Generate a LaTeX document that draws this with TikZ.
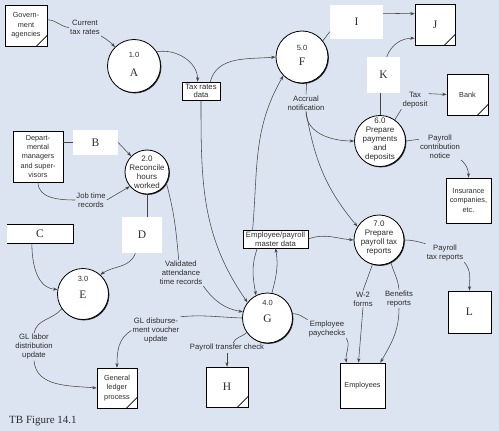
\documentclass[tikz,border=0pt]{standalone}
\usepackage{fontspec}
\setmainfont{Liberation Serif}
\newfontfamily\lab{Liberation Sans}
\usetikzlibrary{arrows.meta,shadows}
\definecolor{bg}{RGB}{219,228,240}
\definecolor{lc}{RGB}{70,70,70}
\definecolor{tc}{RGB}{45,45,45}
\newcommand\dupmark[1]{\draw[line width=0.7pt] ([xshift=-11pt]#1.south east) -- ([yshift=11pt]#1.south east);}
\tikzset{
  lbl/.style={font=\lab\fontsize{7.7}{9}\selectfont, text=tc, align=center, inner sep=1pt},
  ptxt/.style={font=\lab\fontsize{8}{9}\selectfont, text=tc, align=center, inner sep=0pt},
  numtxt/.style={font=\lab\fontsize{7.5}{9}\selectfont, text=tc, inner sep=0pt},
  lettxt/.style={font=\fontsize{11.5}{12}\selectfont, text=tc, inner sep=0pt},
  ent/.style={draw=black, line width=0.6pt, fill=white, font=\lab\fontsize{7.3}{9.3}\selectfont, text=tc, align=center, inner sep=1pt,
    drop shadow={opacity=1, fill=black, shadow xshift=1.1pt, shadow yshift=-1.1pt}},
  entl/.style={ent, font=\fontsize{11.5}{12}\selectfont},
  proc/.style={circle, draw=black, line width=0.8pt, fill=white, inner sep=0pt,
    drop shadow={opacity=1, fill=black!85, shadow xshift=0.9pt, shadow yshift=-0.9pt}},
  ph/.style={fill=white, font=\fontsize{11.5}{12}\selectfont, text=tc, inner sep=0pt},
  store/.style={draw=black, line width=0.5pt, fill=white, font=\lab\fontsize{7.7}{8.6}\selectfont, text=tc, align=center, inner sep=0.5pt,
    drop shadow={opacity=1, fill=black, shadow xshift=0.7pt, shadow yshift=-0.7pt}},
  conn/.style={draw=lc, line width=0.55pt},
  arr/.style={conn, -{Stealth[length=4.5pt,width=3.2pt]}},
}
\begin{document}
\begin{tikzpicture}[x=1pt,y=1pt]
\fill[bg] (0,0) rectangle (499,-431);
\useasboundingbox (0,0) rectangle (499,-431);

% external entities
\node[ent, minimum width=42, minimum height=41] (gov) at (26,-25.5) {Govern-\\ment\\agencies};
\node[ent, minimum width=50, minimum height=51] (dept) at (38,-156.5) {Depart-\\mental\\managers\\and super-\\visors};
\node[ent, minimum width=40, minimum height=40] (ledger) at (117,-388) {General\\ledger\\process};
\node[entl, minimum width=42, minimum height=40] (H) at (227,-387) {H};
\node[ent, minimum width=45, minimum height=45] (emp) at (362.5,-385.5) {Employees};
\node[entl, minimum width=43, minimum height=42] (L) at (469.5,-312) {L};
\node[ent, minimum width=45, minimum height=45] (ins) at (468.5,-200.5) {Insurance\\companies,\\etc.};
\node[ent, minimum width=41, minimum height=41] (bank) at (467.5,-94.5) {Bank};
\node[entl, minimum width=40, minimum height=41] (J) at (435,-24.5) {J};
\dupmark{gov}\dupmark{ledger}\dupmark{H}\dupmark{bank}\dupmark{J}

% data stores
\node[store, minimum width=38, minimum height=18] (trd) at (201,-91) {Tax rates\\data};
\node[store, minimum width=65, minimum height=18] (epd) at (275.5,-239) {Employee/payroll\\master data};
\node[ph, minimum width=66, minimum height=19, drop shadow={opacity=1, fill=black, shadow xshift=0.8pt, shadow yshift=-0.8pt}] (C) at (40,-233.5) {C};
\draw[line width=0.5pt] (C.north west) -- (C.north east) -- (C.south east) -- (C.south west);

% placeholders
\node[ph, minimum width=45, minimum height=25] (B) at (95.5,-142.5) {B};
\node[ph, minimum width=40, minimum height=36] (D) at (142,-235) {D};
\node[ph, minimum width=53, minimum height=34] (I) at (356.5,-22) {I};
\node[ph, minimum width=33, minimum height=36] (K) at (383.5,-75) {K};

% processes
\node[proc, minimum size=53] (c1) at (134,-66) {};
\node[numtxt] (c1n) at ([yshift=11pt]c1.center) {1.0};
\node[lettxt] (c1l) at ([yshift=-7pt]c1.center) {A};
\node[proc, minimum size=44] (c2) at (147,-172) {};
\node[ptxt] (c2t) at (c2.center) {2.0\\Reconcile\\hours\\worked};
\node[proc, minimum size=51] (c3) at (83,-294) {};
\node[numtxt] (c3n) at ([yshift=15pt]c3.center) {3.0};
\node[lettxt] (c3l) at ([yshift=-1pt]c3.center) {E};
\node[proc, minimum size=50] (c4) at (267.5,-318) {};
\node[numtxt] (c4n) at ([yshift=15pt]c4.center) {4.0};
\node[lettxt] (c4l) at ([yshift=-1pt]c4.center) {G};
\node[proc, minimum size=52] (c5) at (302,-57) {};
\node[numtxt] (c5n) at ([yshift=9pt]c5.center) {5.0};
\node[lettxt] (c5l) at ([yshift=-5pt]c5.center) {F};
\node[proc, minimum size=51] (c6) at (380,-141) {};
\node[ptxt] (c6t) at ([yshift=1pt]c6.center) {6.0\\Prepare\\payments\\and\\deposits};
\node[proc, minimum size=50] (c7) at (379,-240) {};
\node[ptxt] (c7t) at ([yshift=2pt]c7.center) {7.0\\Prepare\\payroll tax\\reports};

% flow labels
\node[lbl] (ctl) at (85,-27.5) {Current\\tax rates};
\node[lbl] (jtl) at (91,-200) {Job time\\records};
\node[lbl] (val) at (181,-273) {Validated\\attendance\\time records};
\node[lbl] (gll) at (34,-347) {GL labor\\distribution\\update};
\node[lbl] (gdl) at (156,-330.5) {GL disburse-\\ment voucher\\update};
\node[lbl] (ptl) at (227,-348) {Payroll transfer check};
\node[lbl] (epl) at (327,-329) {Employee\\paychecks};
\node[lbl] (w2l) at (363,-299) {W-2\\forms};
\node[lbl] (bfl) at (399,-299) {Benefits\\reports};
\node[lbl] (ptrl) at (445,-253) {Payroll\\tax reports};
\node[lbl] (acl) at (306,-103) {Accrual\\notification};
\node[lbl] (tdl) at (415,-100) {Tax\\deposit};
\node[lbl] (pcl) at (440,-147) {Payroll\\contribution\\notice};
\node[font=\fontsize{11}{12}\selectfont, text=tc, anchor=west, inner sep=0pt] (cap) at (9,-421) {TB Figure 14.1};

% connectors
\draw[conn] (gov.15) to[out=0,in=175] (ctl.west);
\draw[arr] (ctl.south east) to[out=-30,in=135] (c1.135);
\draw[arr] (c1.32) to[out=10,in=90] (trd.110);
\draw[arr] (trd.45) to[out=75,in=185] (c5.west);
\draw[arr] (trd.south) to[out=-90,in=125] (c4.142);

\draw[conn] (dept.east |- B.west) -- (B.west);
\draw[arr] (B.east) -- (c2.135);
\draw[conn] (dept.south) to[out=-90,in=180] (jtl.west);
\draw[arr] (jtl.east) -- (c2.220);
\draw[conn] (c2.south) -- (c2.south |- D.north);
\draw[arr] (D.250) to[out=-110,in=35] (c3.48);
\draw[arr] (C.230) to[out=-90,in=175] (c3.170);
\draw[conn] (c3.215) to[out=230,in=80] (gll.north);
\draw[arr] (gll.south) to[out=-85,in=175] (ledger.west);

\draw[conn] (c2.-30) to[out=-75,in=95] (val.100);
\draw[arr] (val.south east) to[out=-55,in=170] (c4.166);
\draw[conn] (c4.west) to[out=178,in=5] (gdl.north east);
\draw[arr] (gdl.west) to[out=210,in=90] (ledger.north);
\draw[conn] (c4.215) to[out=225,in=70] ([xshift=6pt]ptl.north);
\draw[arr] (ptl.south) -- (H.north);
\draw[conn] (c4.10) to[out=0,in=150] (epl.north west);
\draw[arr] (epl.south east) to[out=-60,in=100] (emp.125);

\draw[arr] (epd.207) to[out=250,in=100] (c4.117);
\draw[arr] (c4.80) to[out=75,in=-80] (epd.270);
\draw[arr] (epd.158) to[out=85,in=240] (c5.225);
\draw[arr] (epd.east) to[out=20,in=175] (c7.west);

\draw[conn] (c5.-80) -- (acl.north);
\draw[arr] (acl.south) to[out=-90,in=180] (c6.west);
\draw[arr] (acl.south) to[out=-80,in=130] (c7.148);

\draw[conn] (c5.38) -- (I.200);
\draw[arr] (I.18) -- (J.152);
\draw[conn] (c6.north) -- (c6.north |- K.south);
\draw[arr] (K.80) to[out=70,in=180] (J.214);
\draw[conn] (c6.55) -- (tdl.south west);
\draw[arr] (tdl.25) -- (bank.west);
\draw[conn] (c6.east) -- (pcl.160);
\draw[arr] (pcl.south east) to[out=-40,in=90] (ins.north);

\draw[conn] (c7.east) to[out=0,in=165] (ptrl.north west);
\draw[arr] (ptrl.south east) to[out=-50,in=90] (L.north);
\draw[conn] (c7.-105) -- (w2l.north);
\draw[arr] (w2l.south) -- (emp.100);
\draw[conn] (c7.-62) to[out=-75,in=95] (bfl.north);
\draw[arr] (bfl.south) to[out=-90,in=60] (emp.52);
\end{tikzpicture}
\end{document}
